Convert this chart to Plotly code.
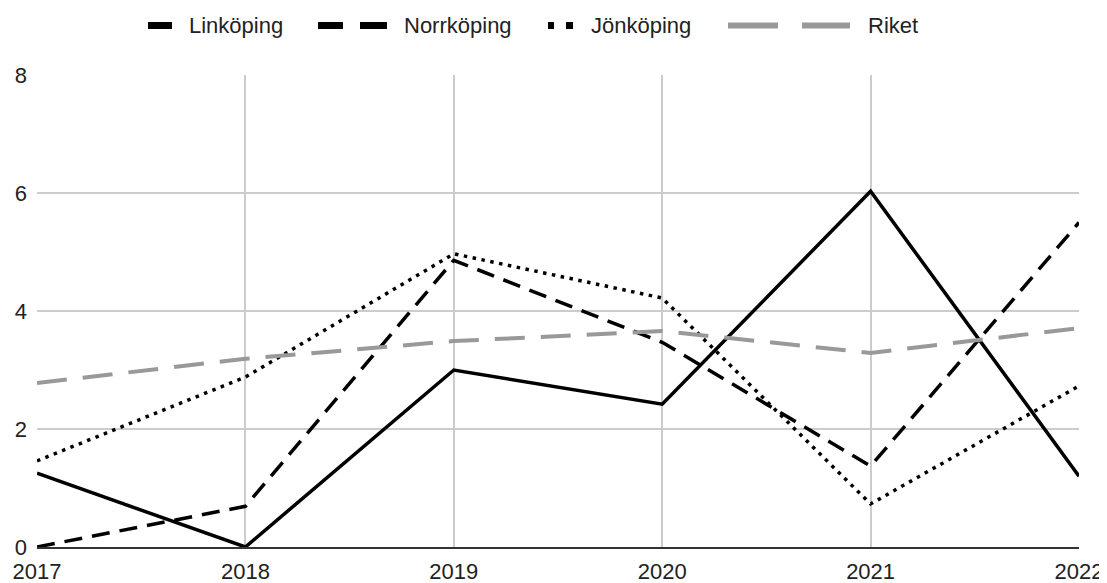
import plotly.graph_objects as go

years = [2017, 2018, 2019, 2020, 2021, 2022]
names = ["Linköping", "Norrköping", "Jönköping", "Riket"]
linkoping = [1.25, 0.0, 3.0, 2.42, 6.03, 1.2]
norrkoping = [0.0, 0.69, 4.86, 3.47, 1.37, 5.5]
jonkoping = [1.46, 2.88, 4.97, 4.22, 0.73, 2.73]
riket = [2.78, 3.19, 3.49, 3.66, 3.29, 3.71]
yticks = [0, 2, 4, 6, 8]

series = [linkoping, norrkoping, jonkoping, riket]
styles = [
    dict(color="black", width=3.5),
    dict(color="black", width=3.5, dash="18px,10px"),
    dict(color="black", width=3.5, dash="3.5px,5.5px"),
    dict(color="#999999", width=4, dash="30px,16px"),
]

fig = go.Figure()
for nm, vals, st in zip(names, series, styles):
    fig.add_trace(go.Scatter(x=years, y=vals, name=nm, mode="lines", line=st,
                             showlegend=False))

# The page body adds an 8px offset; lay out in page pixels minus that offset.
OFF = 8
W, H = 1107 - OFF, 583 - OFF
L, R, T, B = 37 - OFF, 1079 - OFF, 75 - OFF, 547 - OFF

def px(x):
    return (x - OFF - L) / (R - L)

def py(y):
    return (B - (y - OFF)) / (B - T)

legend_y = 25.5
legend_items = [
    ([(148, 172)], "black", 7, 187),
    ([(318, 343), (360, 387)], "black", 7, 402),
    ([(548, 554), (566, 573)], "black", 7, 589),
    ([(728, 778), (802, 850)], "#999999", 6, 866),
]
shapes = []
annotations = []
for nm, (segs, col, th, tx) in zip(names, legend_items):
    for (x0, x1) in segs:
        shapes.append(dict(type="line", xref="paper", yref="paper",
                           x0=px(x0), x1=px(x1), y0=py(legend_y), y1=py(legend_y),
                           line=dict(color=col, width=th)))
    annotations.append(dict(text=nm, xref="paper", yref="paper", x=px(tx),
                            y=py(legend_y), xanchor="left", yanchor="middle",
                            showarrow=False, font=dict(size=22, color="#222222")))

fig.update_layout(
    width=W, height=H,
    margin=dict(l=L, r=W - R, t=T, b=H - B, autoexpand=False),
    paper_bgcolor="white", plot_bgcolor="white",
    font=dict(family="Liberation Sans, Arial, sans-serif", size=22, color="#222222"),
    showlegend=False,
    shapes=shapes,
    annotations=annotations,
    xaxis=dict(range=[2017, 2022], tickvals=years, ticktext=[str(y) for y in years],
               showgrid=True, gridcolor="#cccccc", gridwidth=2, zeroline=False,
               showline=True, linecolor="#333333", linewidth=2, ticks="",
               ticklabelstandoff=4),
    yaxis=dict(range=[0, 8], tickvals=yticks, showgrid=True,
               gridcolor="#cccccc", gridwidth=2, zeroline=False, showline=False,
               ticks="", ticklabelstandoff=9),
)

fig.write_html("out.html")
